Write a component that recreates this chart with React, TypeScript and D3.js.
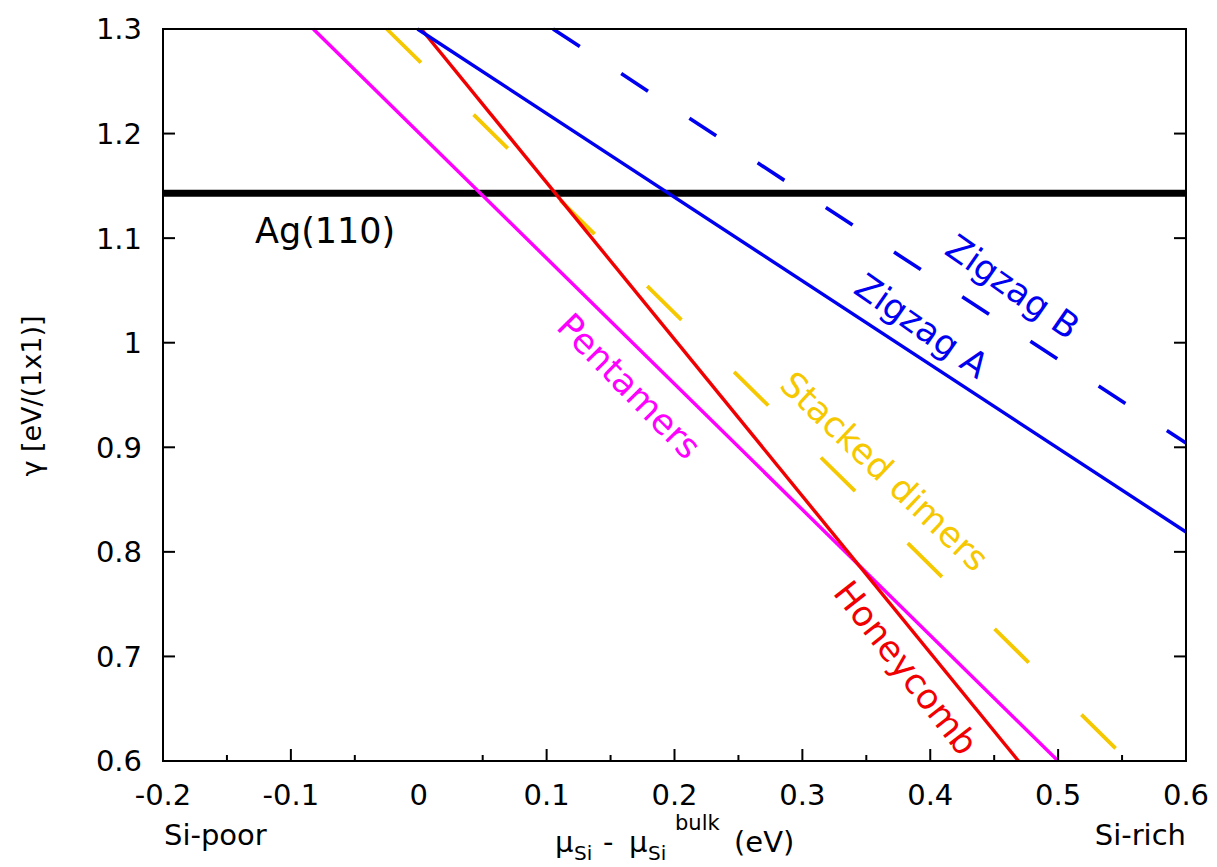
import React from "react";
import * as d3 from "d3";

// ---- data ----
const xTicks = [-0.2, -0.1, 0, 0.1, 0.2, 0.3, 0.4, 0.5, 0.6];
const xTickLabels = ["-0.2", "-0.1", "0", "0.1", "0.2", "0.3", "0.4", "0.5", "0.6"];
const xMinorTicks = [-0.15, -0.05, 0.05, 0.15, 0.25, 0.35, 0.45, 0.55];
const yTicks = [0.6, 0.7, 0.8, 0.9, 1.0, 1.1, 1.2, 1.3];
const yTickLabels = ["0.6", "0.7", "0.8", "0.9", "1", "1.1", "1.2", "1.3"];

const agLevel = 1.143;
const zigzagA: [number, number][] = [[-0.001, 1.3], [0.6, 0.819]];
const zigzagB: [number, number][] = [[0.105, 1.3], [0.6, 0.904]];
const honeycomb: [number, number][] = [[0.002, 1.3], [0.469, 0.6]];
const pentamers: [number, number][] = [[-0.0825, 1.3], [0.5, 0.6]];
const stackedDimers: [number, number][] = [[-0.025, 1.3], [0.55, 0.606]];

const BLUE = "#0000f0";
const RED = "#f00000";
const MAGENTA = "#ff00ff";
const GOLD = "#f5c800";
const FONT = "'DejaVu Sans', sans-serif";

export default function App() {
  const W = 1217, H = 867;
  const L = 163, R = 1186, T = 29, B = 761;
  const x = d3.scaleLinear().domain([-0.2, 0.6]).range([L, R]);
  const y = d3.scaleLinear().domain([0.6, 1.3]).range([B, T]);
  const line = d3.line<[number, number]>().x(d => x(d[0])).y(d => y(d[1]));

  const series = [
    { d: pentamers, color: MAGENTA, dash: undefined, w: 3.4 },
    { d: stackedDimers, color: GOLD, dash: "48,74", w: 3.8 },
    { d: honeycomb, color: RED, dash: undefined, w: 3.4 },
    { d: zigzagA, color: BLUE, dash: undefined, w: 3.4 },
    { d: zigzagB, color: BLUE, dash: "32,49.5", w: 3.6 },
  ];

  const labels = [
    { t: "Pentamers", x: 555, y: 328, a: 45.5, c: MAGENTA },
    { t: "Stacked dimers", x: 778, y: 387, a: 43.5, c: GOLD },
    { t: "Honeycomb", x: 832, y: 593, a: 52, c: RED },
    { t: "Zigzag A", x: 852, y: 292, a: 35, c: BLUE },
    { t: "Zigzag B", x: 943, y: 253, a: 35, c: BLUE },
  ];

  return (
    <svg width={W} height={H} style={{ position: "absolute", left: 0, top: 0, background: "#fff" }}
      fontFamily={FONT}>
      <rect x={0} y={0} width={W} height={H} fill="#fff" />
      {/* Ag(110) reference line */}
      <line x1={L} x2={R} y1={y(agLevel)} y2={y(agLevel)} stroke="#000" strokeWidth={7} />
      {series.map((s, i) => (
        <path key={i} d={line(s.d) || ""} fill="none" stroke={s.color} strokeWidth={s.w}
          strokeDasharray={s.dash} />
      ))}
      {/* frame */}
      <rect x={L} y={T} width={R - L} height={B - T} fill="none" stroke="#000" strokeWidth={2} />
      {/* y ticks left & right */}
      {yTicks.map((v, i) => (
        <g key={"yt" + i}>
          <line x1={L} x2={L + 12} y1={y(v)} y2={y(v)} stroke="#000" strokeWidth={2} />
          <line x1={R} x2={R - 12} y1={y(v)} y2={y(v)} stroke="#000" strokeWidth={2} />
          <text x={142} y={y(v)} dy="0.36em" textAnchor="end" fontSize={29} fill="#000">{yTickLabels[i]}</text>
        </g>
      ))}
      {/* x ticks */}
      {xTicks.map((v, i) => (
        <g key={"xt" + i}>
          {v !== 0 && <line x1={x(v)} x2={x(v)} y1={B} y2={B - 12} stroke="#000" strokeWidth={2} />}
          <text x={x(v)} y={805} textAnchor="middle" fontSize={29} fill="#000">{xTickLabels[i]}</text>
        </g>
      ))}
      {xMinorTicks.map((v, i) => (
        <line key={"xm" + i} x1={x(v)} x2={x(v)} y1={B} y2={B - 6} stroke="#000" strokeWidth={2} />
      ))}
      {/* labels */}
      <text x={255} y={243} fontSize={35} fill="#000">Ag(110)</text>
      {labels.map((l, i) => (
        <text key={"lb" + i} transform={`translate(${l.x},${l.y}) rotate(${l.a})`} fontSize={35} fill={l.c}>{l.t}</text>
      ))}
      <text x={164} y={845} fontSize={29} fill="#000">Si-poor</text>
      <text x={1186} y={845} fontSize={29} fill="#000" textAnchor="end">Si-rich</text>
      {/* x axis title */}
      <text fontSize={29} fill="#000">
        <tspan x={555} y={852}>μ</tspan>
        <tspan x={574} y={860} fontSize={20}>Si</tspan>
        <tspan x={603} y={852}>-</tspan>
        <tspan x={629} y={852}>μ</tspan>
        <tspan x={648} y={860} fontSize={20}>Si</tspan>
        <tspan x={675} y={830} fontSize={21}>bulk</tspan>
        <tspan x={734} y={852}>(eV)</tspan>
      </text>
      {/* y axis title */}
      <text transform="translate(41,396) rotate(-90)" textAnchor="middle" fontSize={27} fill="#000">γ [eV/(1x1)]</text>
    </svg>
  );
}
